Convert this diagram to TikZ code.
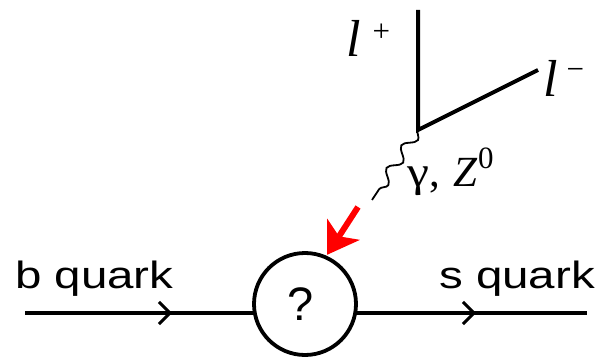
\documentclass[tikz,border=0pt]{standalone}
\usepackage{fontspec}
\setmainfont{Liberation Serif}
\setsansfont{Liberation Sans}
\usetikzlibrary{arrows.meta,decorations.markings,decorations.pathmorphing}
\tikzset{
  quarkline/.style={line width=3.6pt,postaction={decorate},decoration={markings,
      mark=at position 147pt with {\arrow[line width=3pt]{Straight Barb[length=11pt,width=22pt]}},
      mark=at position 451pt with {\arrow[line width=3pt]{Straight Barb[length=11pt,width=22pt]}}}},
  lepton/.style={line width=4pt},
  photon/.style={line width=1.8pt,decorate,decoration={snake,segment length=27pt,amplitude=5.5pt}},
  quarklabel/.style={font=\sffamily\fontsize{38}{44}\selectfont,inner sep=0pt},
  bosonlabel/.style={font=\fontsize{43}{48}\selectfont,inner sep=0pt},
  leptonlabel/.style={font=\fontsize{52}{58}\selectfont,inner sep=0pt}
}
\begin{document}
\begin{tikzpicture}[x=1pt,y=-1pt]
  \useasboundingbox (0,0) rectangle (599,358);
  % --- quark line with the unknown vertex ---
  \coordinate (bin) at (25,313);
  \coordinate (sout) at (587,313);
  \draw[quarkline] (bin) -- (sout);
  \node[circle,draw,fill=white,line width=3.8pt,minimum size=102pt,inner sep=0pt,
        font=\sffamily\fontsize{47}{52}\selectfont] (blob) at (305,304) {\hspace*{-8pt}?};
  \node[quarklabel,anchor=base west] (blab) at (15,288) {\scalebox{1.25}[1]{b quark}};
  \node[quarklabel,anchor=base west] (slab) at (439,288) {\scalebox{1.25}[1]{s quark}};
  % --- lepton pair ---
  \coordinate (vtx) at (418,130);
  \coordinate (lpend) at (418,10);
  \coordinate (lmend) at (538,70);
  \draw[lepton] (lpend) -- (vtx) -- (lmend);
  \node[leptonlabel,anchor=base west] (lplab) at (346,57)
    {\textit{l}\hspace{12pt}\raisebox{15pt}{\fontsize{31}{34}\selectfont +}};
  \node[leptonlabel,anchor=base west] (lmlab) at (543,97)
    {\textit{l}\hspace{9pt}\raisebox{17pt}{\fontsize{31}{34}\selectfont −}};
  % --- virtual boson ---
  \coordinate (bend) at (372,200);
  \draw[photon] (vtx) -- (bend);
  \node[bosonlabel,anchor=base west] (zlab) at (407,186)
    {\scalebox{1.15}[1]{γ},\hspace{14pt}\textit{Z}\raisebox{18pt}{\fontsize{31}{34}\selectfont 0}};
  % --- red pointer ---
  \coordinate (rtail) at (358,207);
  \draw[red,line width=6pt,shorten >=1pt,-{Stealth[length=30pt,width=38pt,inset=8pt]}] (rtail) -- (blob.66);
\end{tikzpicture}
\end{document}
